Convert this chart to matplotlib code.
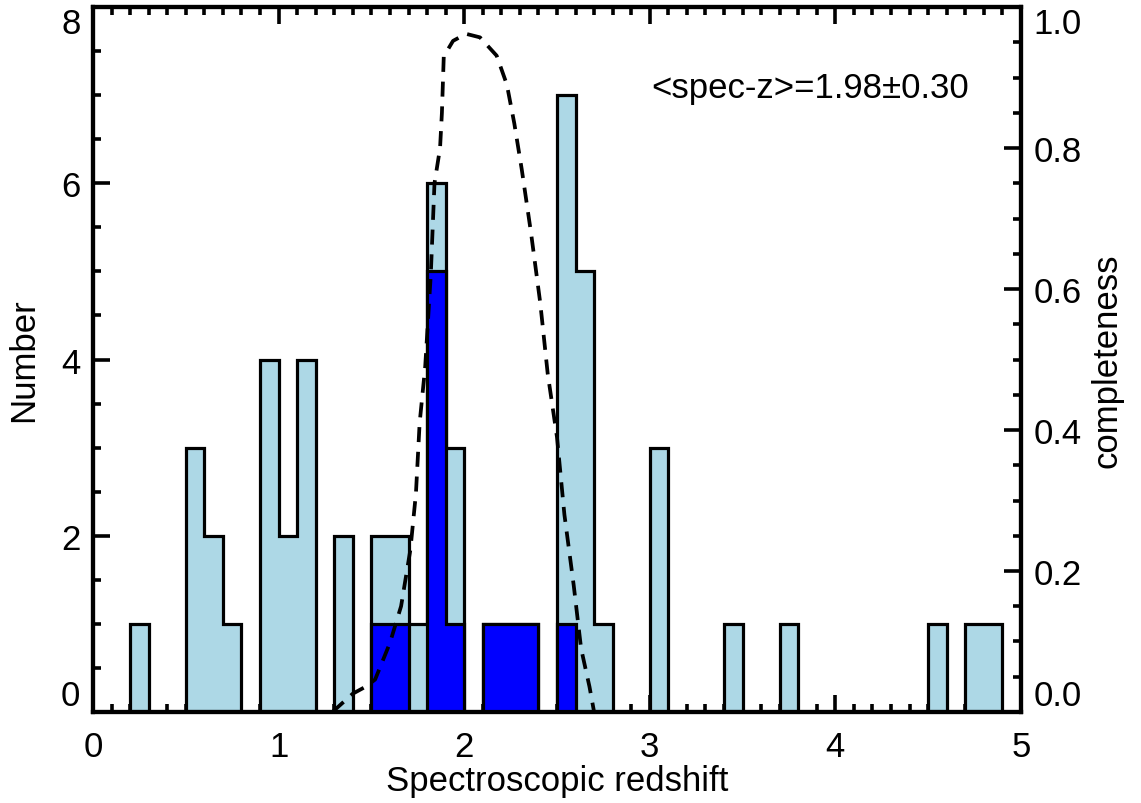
import numpy as np
import matplotlib
matplotlib.use('Agg')
import matplotlib.pyplot as plt
from matplotlib.ticker import MultipleLocator, FormatStrFormatter

plt.rcParams['font.family'] = ['Liberation Sans', 'DejaVu Sans']

# ---- данные: нижние границы бинов (ширина 0.1) и числа ----
bin_width = 0.1
z_all = [0.2, 0.5, 0.6, 0.7, 0.9, 1.0, 1.1, 1.3, 1.5, 1.6, 1.7, 1.8, 1.9,
         2.1, 2.2, 2.3, 2.5, 2.6, 2.7, 3.0, 3.4, 3.7, 4.5, 4.7, 4.8]
n_all = [1, 3, 2, 1, 4, 2, 4, 2, 2, 2, 1, 6, 3,
         1, 1, 1, 7, 5, 1, 3, 1, 1, 1, 1, 1]

z_sub = [1.5, 1.6, 1.8, 1.9, 2.1, 2.2, 2.3, 2.5]
n_sub = [1, 1, 5, 1, 1, 1, 1, 1]

# кривая полноты (правая ось)
comp_z = [1.29, 1.40, 1.47, 1.52, 1.60, 1.66, 1.71, 1.74, 1.76, 1.79, 1.82,
          1.84, 1.87, 1.88, 1.89, 1.94, 2.01, 2.085, 2.175, 2.23, 2.27, 2.31,
          2.36, 2.41, 2.45, 2.50, 2.54, 2.59, 2.63, 2.675, 2.70, 2.80]
comp_c = [0.0, 0.026, 0.036, 0.046, 0.098, 0.15, 0.23, 0.31, 0.41, 0.49, 0.62,
          0.75, 0.80, 0.85, 0.93, 0.952, 0.962, 0.957, 0.931, 0.89, 0.835, 0.77,
          0.68, 0.58, 0.48, 0.39, 0.28, 0.18, 0.09, 0.036, 0.0, 0.0]

label_text = "<spec-z>=1.98\u00b10.30"

# ---- фигура ----
FS = 25
LW = 2.3
fig = plt.figure(figsize=(11.41, 8.04), dpi=100)
ax = fig.add_axes([0.0815, 0.1132, 0.8133, 0.8768])

edges = np.arange(0.0, 5.0 + bin_width / 2, bin_width)
ax.hist(np.array(z_all) + bin_width / 2, bins=edges, weights=n_all,
        histtype='stepfilled', facecolor='lightblue', edgecolor='black',
        linewidth=LW, zorder=2)
ax.hist(np.array(z_sub) + bin_width / 2, bins=edges, weights=n_sub,
        histtype='stepfilled', facecolor='#0000ff', edgecolor='black',
        linewidth=LW, zorder=3)

ax.set_xlim(0, 5)
ax.set_ylim(0, 8)
ax.xaxis.set_major_locator(MultipleLocator(1))
ax.xaxis.set_minor_locator(MultipleLocator(0.1))
ax.yaxis.set_major_locator(MultipleLocator(2))
ax.yaxis.set_minor_locator(MultipleLocator(0.5))
ax.tick_params(which='both', direction='in', top=True, right=False,
               width=2.6, labelsize=FS)
ax.tick_params(which='major', length=12, pad=9)
ax.tick_params(axis='x', which='major', pad=13)
ax.tick_params(which='minor', length=6)
for s in ax.spines.values():
    s.set_linewidth(3.0)

ax.set_xlabel("Spectroscopic redshift", fontsize=FS, labelpad=1)
ax.set_ylabel("Number", fontsize=FS, labelpad=15)

ax.text(3.01, 7.09, label_text, fontsize=FS, ha='left', va='center', zorder=5)

ax2 = ax.twinx()
ax2.plot(comp_z, comp_c, color='black', linestyle=(0, (4.0, 2.6)), linewidth=2.7)
ax2.set_ylim(0, 1.0)
ax2.yaxis.set_major_locator(MultipleLocator(0.2))
ax2.yaxis.set_minor_locator(MultipleLocator(0.05))
ax2.yaxis.set_major_formatter(FormatStrFormatter('%.1f'))
ax2.tick_params(which='both', direction='in', width=2.6, labelsize=FS)
ax2.tick_params(which='major', length=12, pad=9)
ax2.tick_params(which='minor', length=6)
ax2.set_ylabel("completeness", fontsize=FS, labelpad=6)
for s in ax2.spines.values():
    s.set_linewidth(3.0)

# крайние подписи оси Y прижаты внутрь, как в оригинале
fig.canvas.draw()
for a, lo, hi in ((ax, 0, 8), (ax2, 0.0, 1.0)):
    for t in a.yaxis.get_major_ticks():
        loc = t.get_loc()
        if loc is None:
            continue
        if abs(loc - lo) < 1e-9:
            t.label1.set_va('bottom')
            t.label2.set_va('bottom')
        elif abs(loc - hi) < 1e-9:
            t.label1.set_va('top')
            t.label2.set_va('top')

fig.savefig("out.png", dpi=100)
